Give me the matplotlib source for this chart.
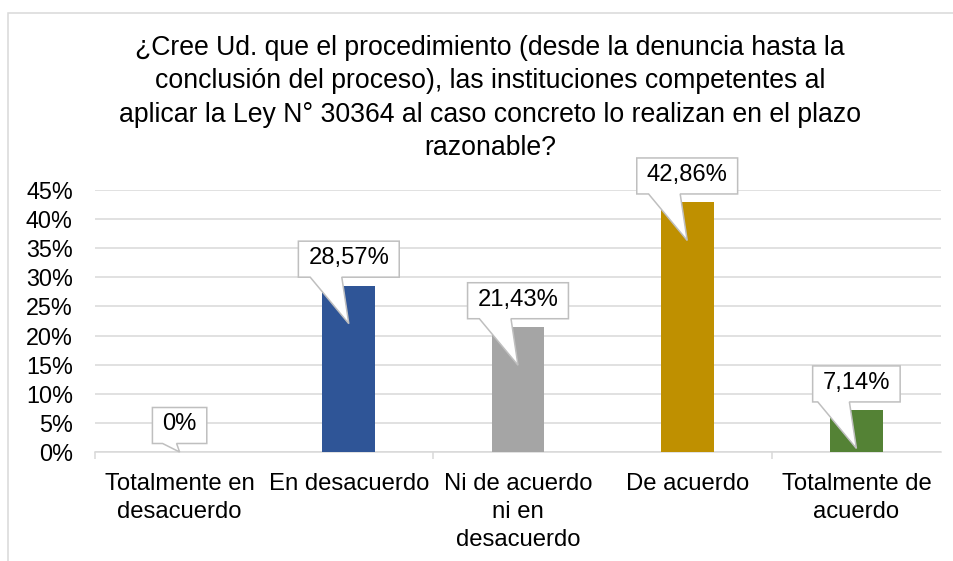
import matplotlib
matplotlib.use('Agg')
import matplotlib.pyplot as plt
from matplotlib.patches import Polygon, Rectangle
from matplotlib.transforms import IdentityTransform
from matplotlib.ticker import FuncFormatter, FixedLocator

categories = ["Totalmente en\ndesacuerdo", "En desacuerdo", "Ni de acuerdo\nni en\ndesacuerdo",
              "De acuerdo", "Totalmente de\nacuerdo"]
values = [0.0, 0.2857, 0.2143, 0.4286, 0.0714]
labels = ["0%", "28,57%", "21,43%", "42,86%", "7,14%"]
colors = ["#4472C4", "#2F5597", "#A5A5A5", "#BF9000", "#548235"]
title = ("¿Cree Ud. que el procedimiento (desde la denuncia hasta la\n"
         "conclusión del proceso), las instituciones competentes al\n"
         "aplicar la Ley N° 30364 al caso concreto lo realizan en el plazo\n"
         "razonable?")

plt.rcParams['font.family'] = ['Liberation Sans', 'DejaVu Sans']
W, H = 954, 561
grid_c = "#D9D9D9"

fig = plt.figure(figsize=(W / 100, H / 100), dpi=100)
ax = fig.add_axes([95 / W, (H - 452) / H, (941 - 95) / W, (452 - 190) / H])

x = list(range(len(categories)))
ax.bar(x, values, width=0.313, color=colors, zorder=2)
ax.set_xlim(-0.5, len(categories) - 0.5)
ax.set_ylim(0, 0.45)
ax.set_yticks([i * 0.05 for i in range(10)])
ax.yaxis.set_major_formatter(FuncFormatter(lambda v, p: f"{v * 100:.0f}%"))
ax.grid(axis='y', color=grid_c, lw=1.1, zorder=0)
ax.set_axisbelow(True)
for s in ['top', 'right', 'left']:
    ax.spines[s].set_visible(False)
ax.spines['bottom'].set_color(grid_c)
ax.spines['bottom'].set_linewidth(1.1)
ax.spines['bottom'].set_zorder(1)

ax.set_xticks(x)
ax.set_xticklabels(categories, fontsize=17.2, linespacing=1.36)
ax.xaxis.set_minor_locator(FixedLocator([-0.5, 1.5, 3.5]))
ax.tick_params(axis='x', which='major', length=0, pad=15)
ax.tick_params(axis='x', which='minor', length=5, color=grid_c, width=1.1)
ax.tick_params(axis='y', length=0, pad=16, labelsize=16.8)

fig.text(490 / W, 1 - 35 / H, title, ha='center', va='top', fontsize=19.2, linespacing=1.37)

# outer chart frame (extends past the image edge)
fig.add_artist(Rectangle((8, -20), 1100, H - 13 + 20, transform=IdentityTransform(),
                         fill=False, edgecolor=grid_c, lw=1.1))

# callout labels
fig.canvas.draw()
renderer = fig.canvas.get_renderer()
zero_y = ax.transData.transform((0, 0))[1]
for i, (v, lab) in enumerate(zip(values, labels)):
    cx, top = ax.transData.transform((i, v))
    B = top + 8.5
    T = B + 36
    t = fig.text(cx, (B + T) / 2 + 1, lab, transform=IdentityTransform(), ha='center',
                 va='center', fontsize=17.1, zorder=6)
    tw = t.get_window_extent(renderer).width
    L, R = cx - tw / 2 - 10, cx + tw / 2 + 10
    ty = max(top - 38, zero_y)
    h = B - ty
    pl, pr = cx - 7 - 0.68 * h, cx - 7
    if h < 20:
        pl, pr = cx - 17, cx - 3
    verts = [(L, B), (pl, B), (cx, ty), (pr, B), (R, B), (R, T), (L, T)]
    fig.add_artist(Polygon(verts, closed=True, transform=IdentityTransform(),
                           facecolor='white', edgecolor='#BFBFBF', lw=1.1, zorder=5))

fig.savefig('out.png', dpi=100)
